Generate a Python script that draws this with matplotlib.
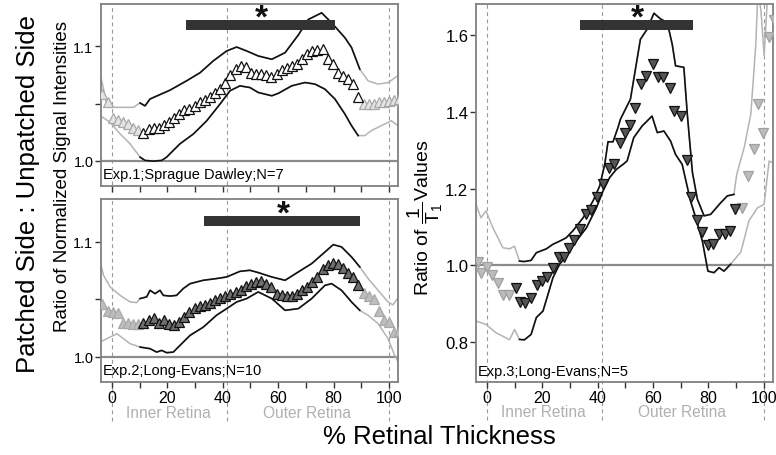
import numpy as np
import matplotlib
matplotlib.use("Agg")
import matplotlib.pyplot as plt

plt.rcParams["font.family"] = ["Liberation Sans", "DejaVu Sans"]
plt.rcParams["mathtext.fontset"] = "custom"
plt.rcParams["mathtext.rm"] = "Liberation Sans"
plt.rcParams["mathtext.it"] = "Liberation Sans:italic"

# ---- data (% retinal thickness vs. ratio patched / unpatched) ----
pos_left = np.arange(-3.5, 104, 1.85)  # sampling positions of the left panels

exp1_mean = [1.058, 1.051, 1.037, 1.036, 1.034, 1.032, 1.029, 1.027, 1.024, 1.0275,
             1.0285, 1.029, 1.031, 1.034, 1.037, 1.041, 1.044, 1.0455, 1.048, 1.051,
             1.053, 1.056, 1.059, 1.063, 1.068, 1.075, 1.080, 1.083, 1.082, 1.077,
             1.0757, 1.0757, 1.075, 1.073, 1.0757, 1.079, 1.081, 1.083, 1.0845, 1.0887,
             1.093, 1.096, 1.0966, 1.098, 1.0887, 1.0844, 1.077, 1.0742, 1.0713, 1.067,
             1.056, 1.0496, 1.0499, 1.050, 1.051, 1.0516, 1.0525, 1.053, 1.054]
exp1_up_x = [-4.3, -1.9, 0.5, 4.1, 7.7, 10.1, 11.9, 13.7, 20.9, 27.0, 31.8, 36.5, 41.4, 45.0,
             48.6, 52.8, 57.7, 62.5, 67.3, 70.9, 75.7, 79.3, 84.1, 86.5, 89.5, 92.5, 96.1,
             99.8, 104.0]
exp1_up_y = [1.0757, 1.0496, 1.0467, 1.0467, 1.0467, 1.0505, 1.048, 1.054, 1.0617, 1.070,
             1.077, 1.0872, 1.096, 1.0994, 1.096, 1.0916, 1.0887, 1.0945, 1.110, 1.1235,
             1.1293, 1.1206, 1.1076, 1.099, 1.080, 1.0698, 1.067, 1.0684, 1.0757]
exp1_lo_x = [-4.3, -0.7, 2.9, 6.5, 10.1, 11.9, 14.9, 17.9, 19.7, 24.5, 29.4, 34.2, 39.0, 42.6,
             46.2, 49.8, 52.8, 57.7, 60.1, 64.9, 69.7, 73.3, 76.9, 80.5, 84.1, 86.5, 88.9,
             91.3, 93.7, 97.3, 100.9, 104.0]
exp1_lo_y = [1.0394, 1.0336, 1.0235, 1.0148, 1.0032, 1.0003, 0.9997, 1.0003, 1.0032, 1.0148,
             1.0235, 1.035, 1.0496, 1.0612, 1.0655, 1.064, 1.0597, 1.0568, 1.059, 1.0655,
             1.0684, 1.067, 1.0626, 1.054, 1.0409, 1.0307, 1.022, 1.022, 1.0264, 1.0307,
             1.035, 1.0293]

exp2_mean = [1.046, 1.040, 1.039, 1.038, 1.0296, 1.0296, 1.0287, 1.028, 1.0296, 1.0316,
             1.0336, 1.0293, 1.0322, 1.028, 1.0273, 1.0302, 1.0345, 1.0391, 1.042, 1.0441,
             1.0452, 1.0467, 1.049, 1.0513, 1.053, 1.0545, 1.0563, 1.0583, 1.0615, 1.0635,
             1.065, 1.0656, 1.0635, 1.0606, 1.0548, 1.0533, 1.0528, 1.0528, 1.0548, 1.0577,
             1.0606, 1.065, 1.0693, 1.076, 1.0794, 1.0818, 1.0809, 1.0771, 1.073, 1.0693,
             1.062, 1.055, 1.053, 1.050, 1.040, 1.032, 1.030, 1.0215, 1.022]
exp2_up_x = [-4.3, -3.1, -0.7, 2.9, 6.5, 8.9, 10.1, 12.5, 13.7, 15.5, 17.3, 18.5, 20.9, 23.3,
             25.7, 28.2, 32.9, 37.7, 41.4, 46.2, 49.8, 52.8, 57.7, 62.5, 67.3, 72.1, 76.9,
             79.9, 82.9, 86.5, 89.5, 92.5, 96.1, 99.7, 101.5, 103.9]
exp2_up_y = [1.0824, 1.0707, 1.0606, 1.0533, 1.0476, 1.047, 1.0505, 1.052, 1.0577, 1.0548,
             1.0577, 1.0533, 1.0527, 1.0533, 1.0592, 1.0635, 1.0664, 1.0679, 1.0693, 1.0742,
             1.0751, 1.0731, 1.0693, 1.0664, 1.0737, 1.0809, 1.091, 1.0974, 1.0954, 1.0867,
             1.078, 1.0679, 1.0577, 1.0476, 1.045, 1.0533]
exp2_lo_x = [-4.3, -0.7, 1.7, 4.1, 6.5, 10.1, 13.7, 16.1, 17.9, 19.7, 22.1, 24.5, 28.2, 33.0,
             37.7, 41.4, 45.0, 48.6, 52.8, 57.7, 62.5, 67.3, 72.1, 76.9, 79.3, 82.9, 86.5,
             89.5, 92.5, 96.1, 99.7, 102.1, 104.0]
exp2_lo_y = [1.0128, 1.0171, 1.020, 1.0157, 1.0113, 1.0084, 1.007, 1.004, 1.0055, 1.0035,
             1.004, 1.0098, 1.0186, 1.0258, 1.036, 1.0418, 1.0476, 1.0505, 1.0563, 1.0505,
             1.0403, 1.0418, 1.0505, 1.062, 1.0635, 1.0577, 1.0476, 1.0403, 1.036, 1.0287,
             1.0157, 1.0011, 0.9924]

exp3_mean_x = [-3.4, -2.3, 0.0, 1.9, 4.0, 5.8, 7.8, 10.3, 12.0, 13.6, 15.8, 17.9, 19.7, 21.5,
               23.9, 25.9, 27.8, 29.6, 31.5, 33.7, 35.9, 37.7, 39.7, 41.9, 44.0, 45.8, 48.0,
               50.0, 51.8, 53.6, 55.7, 57.6, 60.0, 61.7, 63.6, 66.0, 67.7, 69.9, 72.1, 73.7,
               75.9, 77.7, 79.8, 81.7, 83.8, 85.8, 87.7, 89.4, 92.0, 94.1, 96.4, 98.0, 99.7,
               101.9, 103.5]
exp3_mean_y = [1.008, 0.981, 0.996, 0.975, 0.955, 0.924, 0.924, 0.942, 0.905, 0.903, 0.914,
               0.950, 0.958, 0.970, 0.994, 1.021, 1.021, 1.046, 1.067, 1.094, 1.133, 1.143,
               1.177, 1.211, 1.255, 1.265, 1.320, 1.346, 1.366, 1.411, 1.472, 1.494, 1.524,
               1.491, 1.491, 1.462, 1.401, 1.389, 1.274, 1.178, 1.117, 1.087, 1.053, 1.056,
               1.083, 1.082, 1.090, 1.146, 1.150, 1.232, 1.302, 1.421, 1.346, 1.595, 1.640]
exp3_up_x = [-4.0, -2.2, -0.4, 2.1, 5.7, 8.1, 9.9, 11.7, 13.5, 15.9, 17.8, 21.4, 23.8, 26.2,
             28.6, 31.0, 34.7, 38.3, 40.7, 42.5, 43.7, 45.5, 47.3, 48.2, 51.8, 55.4, 57.8,
             60.3, 62.7, 65.1, 66.9, 68.1, 71.1, 72.4, 74.2, 76.0, 78.4, 80.8, 84.4, 86.8,
             89.2, 90.2, 92.9, 95.3, 97.1, 97.9, 99.0, 100.1, 101.5, 103.6]
exp3_up_y = [1.159, 1.124, 1.142, 1.098, 1.046, 1.043, 1.050, 1.011, 1.010, 1.013, 1.033,
             1.043, 1.055, 1.063, 1.072, 1.090, 1.124, 1.168, 1.207, 1.263, 1.322, 1.322,
             1.359, 1.381, 1.433, 1.589, 1.615, 1.657, 1.642, 1.633, 1.576, 1.520, 1.516,
             1.389, 1.242, 1.172, 1.129, 1.133, 1.163, 1.181, 1.185, 1.237, 1.307, 1.394,
             1.576, 1.72, 1.66, 1.546, 1.72, 1.72]
exp3_lo_x = [-4.0, -0.4, 3.3, 6.9, 8.1, 9.9, 11.7, 13.5, 15.9, 17.8, 20.2, 22.0, 23.8, 26.2,
             28.6, 32.2, 35.9, 39.5, 41.9, 44.3, 46.7, 49.1, 50.6, 53.0, 56.0, 59.6, 61.5,
             63.9, 66.3, 68.1, 70.5, 73.5, 75.4, 77.8, 79.8, 82.0, 83.8, 85.6, 88.0, 91.7,
             94.6, 97.7, 100.1, 101.9, 104.3]
exp3_lo_y = [0.855, 0.846, 0.824, 0.811, 0.806, 0.833, 0.807, 0.806, 0.820, 0.864, 0.881,
             0.924, 0.968, 1.003, 1.024, 1.063, 1.098, 1.150, 1.194, 1.229, 1.250, 1.263,
             1.272, 1.333, 1.363, 1.389, 1.346, 1.350, 1.324, 1.289, 1.263, 1.168, 1.124,
             1.063, 0.985, 0.981, 0.994, 0.985, 1.003, 1.035, 1.116, 1.150, 1.159, 1.272,
             1.263]

# significant ranges (black bars) and layer borders
sig_exp1 = (26.7, 80.5)
sig_exp2 = (33.3, 89.5)
sig_exp3 = (33.4, 74.4)
layer_borders = [0, 41.4, 100]
inner_range = (10.0, 89.5)  # points inside this range are the analysed ones (black)

x_ticks = np.arange(0, 101, 10)
x_tick_labels = ["0", "", "20", "", "40", "", "60", "", "80", "", "100"]
left_y_ticks = [1.0, 1.05, 1.1]
left_y_labels = ["1.0", "", "1.1"]
right_y_ticks = [0.8, 1.0, 1.2, 1.4, 1.6]
right_y_labels = ["0.8", "1.0", "1.2", "1.4", "1.6"]

BLACK = "#111111"
GRAY_LINE = "#b4b4b4"
FRAME = "#808080"


def draw_bound(ax, xs, ys):
    xs = np.asarray(xs)
    ys = np.asarray(ys)
    ax.plot(xs, ys, color=GRAY_LINE, lw=1.1, zorder=2)
    inner = (xs >= inner_range[0]) & (xs <= inner_range[1])
    ax.plot(xs[inner], ys[inner], color=BLACK, lw=1.2, zorder=3)


def draw_mean(ax, xs, ys, marker, face_in, face_out, edge_out):
    xs = np.asarray(xs)
    ys = np.asarray(ys)
    inner = (xs >= inner_range[0]) & (xs <= inner_range[1])
    ax.plot(xs[~inner], ys[~inner], ls="none", marker=marker, ms=7, mfc=face_out,
            mec=edge_out, mew=0.9, zorder=4)
    ax.plot(xs[inner], ys[inner], ls="none", marker=marker, ms=7, mfc=face_in,
            mec=BLACK, mew=0.9, zorder=5)


def style_axes(ax, ylim, yticks, ylabels, ylabelsize, show_x):
    ax.set_xlim(-4, 103.3)
    ax.set_ylim(*ylim)
    for s in ax.spines.values():
        s.set_color(FRAME)
        s.set_linewidth(1.3)
    ax.set_xticks(x_ticks)
    ax.set_xticklabels(x_tick_labels if show_x else [""] * len(x_ticks))
    ax.set_yticks(yticks)
    ax.set_yticklabels(ylabels)
    ax.tick_params(axis="x", direction="out", length=4, width=1, color="#333333",
                   labelsize=11.5, pad=1.5)
    ax.tick_params(axis="y", direction="out", length=4, width=1, color="#333333",
                   labelsize=ylabelsize, pad=1.5)
    ax.axhline(1.0, color="#8c8c8c", lw=1.6, zorder=1.5)


def draw_borders(ax, bottom):
    trans = ax.get_xaxis_transform()
    for b in layer_borders:
        ax.plot([b, b], [bottom, 1], transform=trans, color="#9a9a9a", lw=0.8,
                ls=(0, (3.5, 3)), clip_on=False, zorder=1)


def draw_sig(ax, rng, bar_y, star_y):
    trans = ax.get_xaxis_transform()
    ax.plot(rng, [bar_y, bar_y], transform=trans, color="#333333", lw=7.2,
            solid_capstyle="butt", zorder=6)
    ax.text((rng[0] + rng[1]) / 2 + 0.5, star_y, "*", transform=trans, ha="center",
            va="baseline", fontsize=24, fontweight="bold", color=BLACK, zorder=7)


def draw_regions(ax, y):
    trans = ax.get_xaxis_transform()
    ax.text(20.5, y, "Inner Retina", transform=trans, ha="center", va="center",
            fontsize=11.2, color="#b0b0b0")
    ax.text(70.5, y, "Outer Retina", transform=trans, ha="center", va="center",
            fontsize=11.2, color="#b0b0b0")


fig = plt.figure(figsize=(7.76, 4.56), dpi=100)
ax1 = fig.add_axes([0.1302, 0.590, 0.3827, 0.399])
ax2 = fig.add_axes([0.1302, 0.160, 0.3827, 0.4013])
ax3 = fig.add_axes([0.6134, 0.160, 0.3827, 0.829])

left_lim = (0.978, 1.137)

# Exp. 1
style_axes(ax1, left_lim, left_y_ticks, left_y_labels, 10.4, False)
draw_borders(ax1, -0.035)
draw_bound(ax1, exp1_up_x, exp1_up_y)
draw_bound(ax1, exp1_lo_x, exp1_lo_y)
draw_mean(ax1, pos_left, exp1_mean, "^", "white", "#e4e4e4", "#a8a8a8")
draw_sig(ax1, sig_exp1, 0.886, 0.875)
ax1.text(0.005, 0.025, "Exp.1;Sprague Dawley;N=7", transform=ax1.transAxes,
         fontsize=10.5, ha="left", va="bottom")

# Exp. 2
style_axes(ax2, left_lim, left_y_ticks, left_y_labels, 10.4, True)
draw_borders(ax2, -0.215)
draw_bound(ax2, exp2_up_x, exp2_up_y)
draw_bound(ax2, exp2_lo_x, exp2_lo_y)
draw_mean(ax2, pos_left, exp2_mean, "^", "#6e6e6e", "#bdbdbd", "#a8a8a8")
draw_sig(ax2, sig_exp2, 0.88, 0.87)
ax2.text(0.005, 0.025, "Exp.2;Long-Evans;N=10", transform=ax2.transAxes,
         fontsize=10.5, ha="left", va="bottom")
draw_regions(ax2, -0.164)

# Exp. 3
style_axes(ax3, (0.696, 1.681), right_y_ticks, right_y_labels, 12, True)
draw_borders(ax3, -0.1)
draw_bound(ax3, exp3_up_x, exp3_up_y)
draw_bound(ax3, exp3_lo_x, exp3_lo_y)
draw_mean(ax3, exp3_mean_x, exp3_mean_y, "v", "#555555", "#bcbcbc", "#a0a0a0")
draw_sig(ax3, sig_exp3, 0.945, 0.94)
ax3.text(0.005, 0.012, "Exp.3;Long-Evans;N=5", transform=ax3.transAxes,
         fontsize=10.5, ha="left", va="bottom")
draw_regions(ax3, -0.079)

fig.text(0.036, 0.575, "Patched Side : Unpatched Side", rotation=90, ha="center",
         va="center", fontsize=18.5)
fig.text(0.081, 0.612, "Ratio of Normalized Signal Intensities", rotation=90,
         ha="center", va="center", fontsize=13.5)
fig.text(0.548, 0.522, "Ratio of $\\dfrac{1}{\\mathrm{T}_1}$Values", rotation=90,
         ha="center", va="center", fontsize=14)
fig.text(0.566, 0.042, "% Retinal Thickness", ha="center", va="center", fontsize=18.5)

fig.savefig("out.png", dpi=100)
